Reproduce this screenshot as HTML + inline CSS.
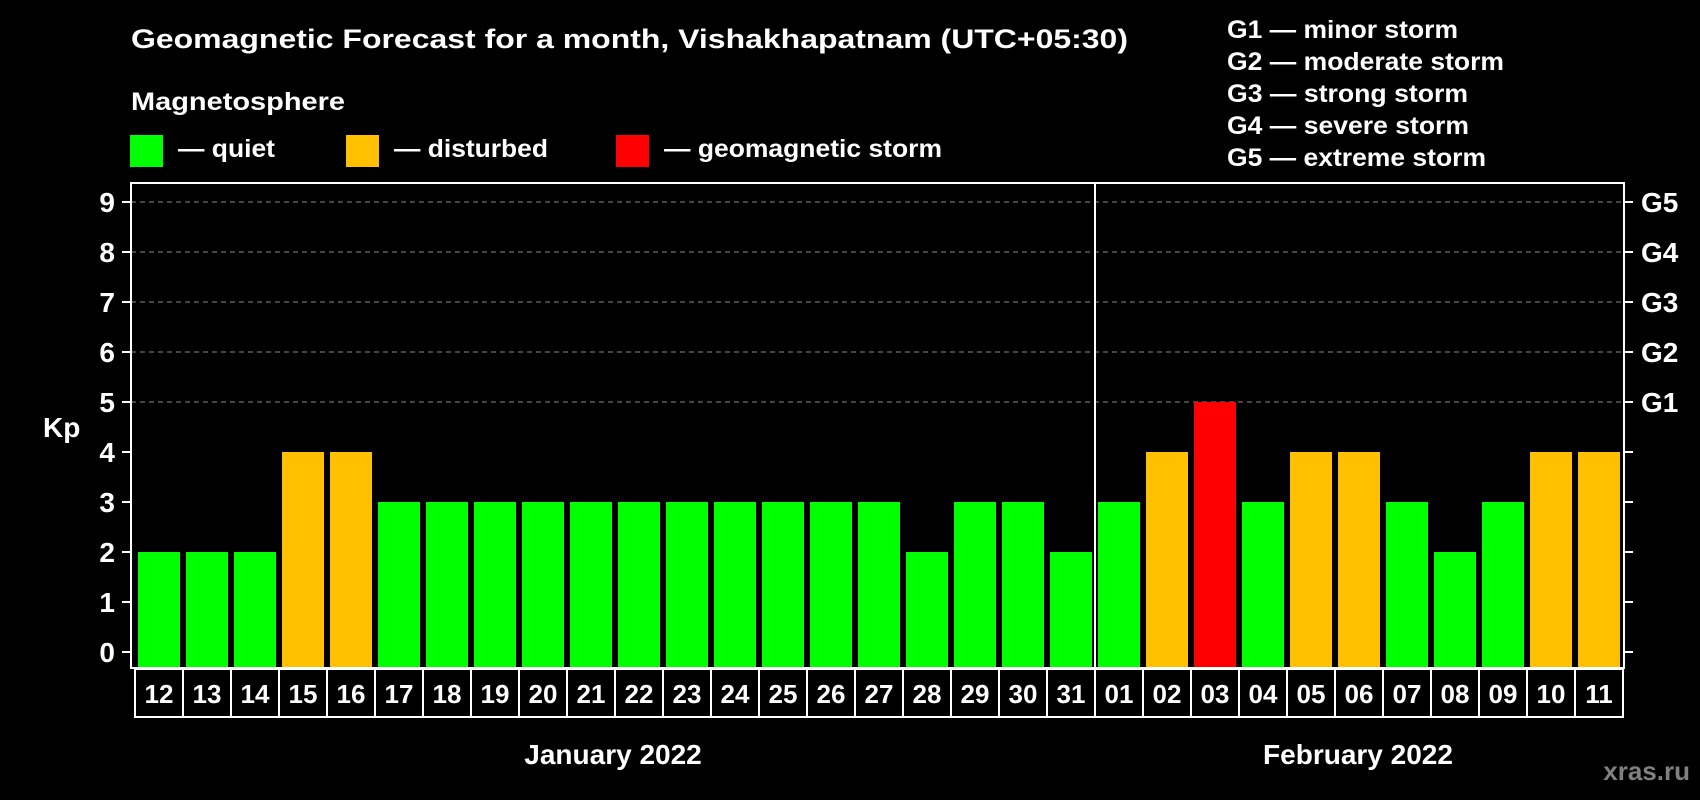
<!DOCTYPE html>
<html><head><meta charset="utf-8"><style>
html,body{margin:0;padding:0;background:#000;}
svg{display:block;font-family:"Liberation Sans",Arial,sans-serif;font-weight:bold;}
</style></head><body>
<svg id="chart" width="1700" height="800" viewBox="0 0 1700 800" xmlns="http://www.w3.org/2000/svg">
<rect width="1700" height="800" fill="#000"/>
<text x="131" y="48" fill="#fff" font-size="27" textLength="997" lengthAdjust="spacingAndGlyphs">Geomagnetic Forecast for a month, Vishakhapatnam (UTC+05:30)</text>
<text x="131" y="110" fill="#fff" font-size="25" textLength="214" lengthAdjust="spacingAndGlyphs">Magnetosphere</text>
<g>
<rect x="130" y="135" width="33" height="32" fill="#00ff00"/>
<text x="178" y="157" fill="#fff" font-size="25" textLength="97" lengthAdjust="spacingAndGlyphs">— quiet</text></g>
<g>
<rect x="346" y="135" width="33" height="32" fill="#ffc000"/>
<text x="394" y="157" fill="#fff" font-size="25" textLength="154" lengthAdjust="spacingAndGlyphs">— disturbed</text></g>
<g>
<rect x="616" y="135" width="33" height="32" fill="#ff0000"/>
<text x="664" y="157" fill="#fff" font-size="25" textLength="278" lengthAdjust="spacingAndGlyphs">— geomagnetic storm</text></g>
<g fill="#fff" font-size="25">
<text x="1227" y="38" textLength="231" lengthAdjust="spacingAndGlyphs">G1 — minor storm</text>
<text x="1227" y="70" textLength="277" lengthAdjust="spacingAndGlyphs">G2 — moderate storm</text>
<text x="1227" y="102" textLength="241" lengthAdjust="spacingAndGlyphs">G3 — strong storm</text>
<text x="1227" y="134" textLength="242" lengthAdjust="spacingAndGlyphs">G4 — severe storm</text>
<text x="1227" y="166" textLength="259" lengthAdjust="spacingAndGlyphs">G5 — extreme storm</text>
</g>
<text x="43" y="437" fill="#fff" font-size="28">Kp</text>
<g id="grid"></g><g id="bars"></g><g id="axes"></g><g id="xlabels"></g>
<rect x="131" y="183" width="1493" height="485" fill="none" stroke="#fff" stroke-width="2"/>
<line x1="1095" y1="183" x2="1095" y2="668" stroke="#fff" stroke-width="2"/>
<text x="613" y="764" fill="#fff" font-size="28" text-anchor="middle">January 2022</text>
<text x="1358" y="764" fill="#fff" font-size="28" text-anchor="middle">February 2022</text>
<text x="1690" y="780" fill="#808080" font-size="26" text-anchor="end">xras.ru</text>
</svg>
<script>
const days = ["12","13","14","15","16","17","18","19","20","21","22","23","24","25","26","27","28","29","30","31","01","02","03","04","05","06","07","08","09","10","11"];
const kpValues = [2,2,2,4,4,3,3,3,3,3,3,3,3,3,3,3,2,3,3,2,3,4,5,3,4,4,3,2,3,4,4];
const yTicks = [0,1,2,3,4,5,6,7,8,9];
const gLabels = ["G1","G2","G3","G4","G5"];
const gLevels = [5,6,7,8,9];
const NS="http://www.w3.org/2000/svg";
const x0=138, pitch=48, barW=42;
function xPos(i){return x0+i*pitch;}
function yPos(v){return 652-v*50;}
function mk(tag,attrs,parent){const e=document.createElementNS(NS,tag);for(const k in attrs)e.setAttribute(k,attrs[k]);parent.appendChild(e);return e;}
function color(v){return v>=5?"#ff0000":(v>=4?"#ffc000":"#00ff00");}
const grid=document.getElementById('grid'),bars=document.getElementById('bars'),axes=document.getElementById('axes'),xl=document.getElementById('xlabels');
gLevels.forEach(v=>{
  const l=mk('line',{x1:131,x2:1624,y1:yPos(v),y2:yPos(v),stroke:'#8a8a8a','stroke-width':1,'stroke-dasharray':'5,4'},grid);
  
  
});
yTicks.forEach(v=>{
  const t=mk('line',{x1:122,x2:131,y1:yPos(v),y2:yPos(v),stroke:'#fff','stroke-width':2},axes);
  
  
  const t2=mk('line',{x1:1624,x2:1633,y1:yPos(v),y2:yPos(v),stroke:'#fff','stroke-width':2},axes);
  
  
  const tx=mk('text',{x:115,y:yPos(v)+10,fill:'#fff','font-size':28,'text-anchor':'end'},axes);
  tx.textContent=v;
  
  
});
gLabels.forEach((g,i)=>{
  const tx=mk('text',{x:1641,y:yPos(gLevels[i])+10,fill:'#fff','font-size':28},axes);
  tx.textContent=g;
  
  
});
kpValues.forEach((v,i)=>{
  const r=mk('rect',{x:xPos(i),y:yPos(v),width:barW,height:668-yPos(v),fill:color(v)},bars);
  
  
});
const box=mk('rect',{x:135,y:669,width:1488,height:48,fill:'none',stroke:'#fff','stroke-width':2},xl);


days.forEach((d,i)=>{
  if(i>0){
    const s=mk('line',{x1:xPos(i)-3,x2:xPos(i)-3,y1:669,y2:717,stroke:'#fff','stroke-width':2},xl);
    
    
  }
  const t=mk('text',{x:xPos(i)+barW/2,y:703,fill:'#fff','font-size':26,'text-anchor':'middle'},xl);
  t.textContent=d;
  
  
});
</script>
</body></html>
